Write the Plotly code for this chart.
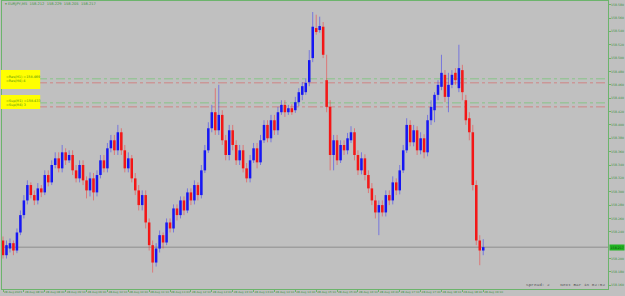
import plotly.graph_objects as go

# ---- data (EURJPY, M5) ----
opens = [158.227,158.205,158.215,158.223,158.212,158.239,158.265,158.287,158.310,158.295,
         158.287,158.305,158.299,158.325,158.314,158.340,158.350,158.335,158.359,158.347,
         158.355,158.332,158.320,158.340,158.317,158.302,158.320,158.299,158.325,158.347,
         158.335,158.365,158.377,158.362,158.389,158.362,158.335,158.350,158.320,158.302,
         158.280,158.295,158.254,158.220,158.194,158.215,158.235,158.224,158.254,158.245,
         158.275,158.265,158.287,158.272,158.299,158.287,158.310,158.295,158.332,158.362,
         158.395,158.419,158.392,158.415,158.377,158.355,158.392,158.370,158.347,158.362,
         158.335,158.320,158.347,158.365,158.344,158.377,158.400,158.380,158.407,158.392,
         158.419,158.430,158.419,158.425,158.422,158.434,158.445,158.449,158.464,158.500,
         158.545,158.542,158.547,158.467,158.427,158.355,158.377,158.347,158.370,158.362,
         158.377,158.389,158.355,158.332,158.350,158.325,158.305,158.287,158.269,158.280,
         158.269,158.295,158.287,158.314,158.302,158.332,158.362,158.400,158.374,158.392,
         158.362,158.380,158.359,158.407,158.422,158.445,158.457,158.475,158.442,158.460,
         158.478,158.455,158.482,158.437,158.410,158.389,158.310,158.227,158.212]
highs = [158.233,158.227,158.230,158.227,158.245,158.272,158.295,158.317,158.314,158.302,
         158.313,158.310,158.332,158.332,158.347,158.359,158.359,158.370,158.365,158.362,
         158.362,158.340,158.347,158.347,158.323,158.329,158.328,158.332,158.355,158.355,
         158.373,158.385,158.385,158.400,158.395,158.370,158.359,158.355,158.328,158.310,
         158.302,158.302,158.260,158.227,158.223,158.242,158.239,158.260,158.260,158.281,
         158.281,158.293,158.293,158.305,158.305,158.317,158.314,158.340,158.370,158.404,
         158.430,158.455,158.460,158.422,158.385,158.400,158.400,158.377,158.370,158.370,
         158.343,158.355,158.373,158.373,158.385,158.407,158.407,158.415,158.415,158.427,
         158.437,158.437,158.430,158.431,158.442,158.455,158.464,158.470,158.512,158.569,
         158.565,158.562,158.554,158.505,158.437,158.385,158.385,158.377,158.377,158.388,
         158.398,158.395,158.362,158.359,158.356,158.332,158.313,158.295,158.287,158.287,
         158.302,158.302,158.323,158.320,158.340,158.370,158.410,158.407,158.400,158.398,
         158.389,158.386,158.415,158.437,158.449,158.467,158.505,158.482,158.478,158.482,
         158.485,158.520,158.490,158.445,158.419,158.400,158.317,158.235,158.229]
lows = [158.200,158.200,158.209,158.205,158.208,158.235,158.260,158.281,158.290,158.280,
        158.281,158.292,158.295,158.308,158.310,158.335,158.329,158.329,158.340,158.343,
        158.325,158.314,158.314,158.310,158.290,158.293,158.287,158.293,158.320,158.329,
        158.329,158.359,158.355,158.355,158.355,158.329,158.329,158.314,158.295,158.272,
        158.272,158.245,158.212,158.179,158.188,158.209,158.215,158.220,158.239,158.239,
        158.257,158.260,158.265,158.268,158.280,158.281,158.287,158.290,158.328,158.358,
        158.389,158.385,158.385,158.370,158.347,158.347,158.362,158.340,158.340,158.329,
        158.314,158.314,158.343,158.335,158.340,158.373,158.374,158.374,158.385,158.385,
        158.415,158.412,158.415,158.415,158.418,158.428,158.437,158.445,158.458,158.494,
        158.535,158.538,158.500,158.419,158.332,158.332,158.340,158.343,158.355,158.356,
        158.373,158.347,158.325,158.326,158.317,158.298,158.280,158.260,158.235,158.263,
        158.263,158.280,158.281,158.295,158.296,158.328,158.358,158.368,158.368,158.355,
        158.356,158.350,158.353,158.400,158.404,158.437,158.452,158.434,158.419,158.455,
        158.460,158.449,158.437,158.400,158.377,158.302,158.220,158.190,158.205]
closes = [158.205,158.220,158.223,158.212,158.239,158.265,158.287,158.310,158.295,158.287,
          158.305,158.299,158.325,158.314,158.340,158.350,158.335,158.359,158.347,158.355,
          158.332,158.320,158.340,158.317,158.302,158.320,158.299,158.325,158.347,158.335,
          158.365,158.377,158.362,158.389,158.362,158.335,158.350,158.320,158.302,158.280,
          158.295,158.254,158.220,158.194,158.215,158.235,158.224,158.254,158.245,158.275,
          158.265,158.287,158.272,158.299,158.287,158.310,158.295,158.332,158.362,158.395,
          158.419,158.392,158.415,158.377,158.355,158.392,158.370,158.347,158.362,158.335,
          158.320,158.347,158.365,158.344,158.377,158.400,158.380,158.407,158.392,158.419,
          158.430,158.419,158.425,158.419,158.434,158.449,158.458,158.463,158.497,158.547,
          158.539,158.548,158.505,158.427,158.355,158.377,158.347,158.370,158.362,158.380,
          158.389,158.355,158.332,158.350,158.325,158.305,158.287,158.269,158.280,158.269,
          158.295,158.287,158.314,158.302,158.332,158.362,158.400,158.374,158.392,158.362,
          158.380,158.359,158.407,158.427,158.445,158.460,158.478,158.442,158.460,158.475,
          158.467,158.485,158.449,158.407,158.389,158.310,158.227,158.212,158.217]

tick_bars = [0, 6, 12, 18, 24, 30, 36, 42, 48, 54, 60, 66, 72, 78, 84, 90,
             96, 102, 108, 114, 120, 126, 132, 138]
tick_labels = ["28 Aug 2023", "28 Aug 08:10", "28 Aug 08:40", "28 Aug 09:10", "28 Aug 09:40",
               "28 Aug 10:10", "28 Aug 10:40", "28 Aug 11:10", "28 Aug 11:40", "28 Aug 12:10",
               "28 Aug 12:40", "28 Aug 13:10", "28 Aug 13:40", "28 Aug 14:10", "28 Aug 14:40",
               "28 Aug 15:10", "28 Aug 15:40", "28 Aug 16:10", "28 Aug 16:40", "28 Aug 17:10",
               "28 Aug 17:40", "28 Aug 18:10", "28 Aug 18:40", "28 Aug 19:10"]
# 158.220 is hidden behind the current-price label in the reference
price_ticks = [158.160, 158.180, 158.200, 158.240, 158.260, 158.280, 158.300,
               158.320, 158.340, 158.360, 158.380, 158.400, 158.420, 158.440, 158.460,
               158.480, 158.500, 158.520, 158.540, 158.560, 158.580]
level_upper = [158.469, 158.463]   # green, red dash-dot levels
level_lower = [158.433, 158.427]
level_texts_upper = ["=Res(H1) =158.469", "=Res(H4) 4"]
level_texts_lower = ["=Sup(H1) =158.433", "=Sup(H4) 3"]
symbol = "EURJPY,M5"
spread_text = "Spread: 2    Next Bar in 02:52"

# ---- styling ----
BG = "#c0c0c0"
GREEN_LINE = "#6cb46c"
GREEN_TEXT = "#3f923f"
UP = "#1414f0"
DN = "#f01414"
UP_WICK = "rgba(30,30,255,0.45)"
DN_WICK = "rgba(255,30,30,0.45)"

idx = list(range(len(closes)))
up_i = [i for i in idx if closes[i] >= opens[i]]
dn_i = [i for i in idx if closes[i] < opens[i]]

def wick_xy(ids):
    xs, ys = [], []
    for i in ids:
        xs += [i, i, None]
        ys += [lows[i], highs[i], None]
    return xs, ys

fig = go.Figure()
for ids, col in ((up_i, UP_WICK), (dn_i, DN_WICK)):
    wx, wy = wick_xy(ids)
    fig.add_trace(go.Scatter(x=wx, y=wy, mode="lines", line=dict(color=col, width=1),
                             hoverinfo="skip"))
for ids, col in ((up_i, UP), (dn_i, DN)):
    fig.add_trace(go.Bar(
        x=ids,
        base=[min(opens[i], closes[i]) for i in ids],
        y=[max(abs(closes[i] - opens[i]), 0.0012) for i in ids],
        width=0.72, marker=dict(color=col, line=dict(width=0)),
    ))

last = closes[-1]
shapes = []
for lv, c in zip(level_upper + level_lower, ["#86c486", "#d08484", "#86c486", "#d08484"]):
    shapes.append(dict(type="line", xref="paper", yref="y", x0=0, x1=1, y0=lv, y1=lv,
                       line=dict(color=c, width=1, dash="dashdot"), layer="below"))
shapes.append(dict(type="line", xref="paper", yref="y", x0=0, x1=1, y0=last, y1=last,
                   line=dict(color="#8e8e8e", width=1), layer="below"))
shapes.append(dict(type="rect", xref="paper", yref="paper", x0=-0.002, x1=0.063,
                   y0=(289 - 89) / 288, y1=(289 - 70) / 288,
                   fillcolor="#ffff00", line=dict(width=0)))
shapes.append(dict(type="rect", xref="paper", yref="paper", x0=-0.002, x1=0.063,
                   y0=(289 - 109) / 288, y1=(289 - 95) / 288,
                   fillcolor="#ffff00", line=dict(width=0)))

ann = []
ann.append(dict(xref="paper", yref="paper", x=0.002, y=(289 - 4) / 288, xanchor="left",
                yanchor="middle", showarrow=False,
                text="▾ " + symbol + "  " + "  ".join(f"{v:.3f}" for v in
                     (opens[-1], highs[-1], lows[-1], closes[-1])),
                font=dict(size=3.6, color=GREEN_TEXT, family="DejaVu Sans")))
for ys, txts in (((77, 81), level_texts_upper), ((101, 105), level_texts_lower)):
    for yp, t in zip(ys, txts):
        ann.append(dict(xref="paper", yref="paper", x=0.004, y=(289 - yp) / 288,
                        xanchor="left", yanchor="middle", showarrow=False, text=t,
                        font=dict(size=3.4, color="#4f8f10", family="DejaVu Sans")))
ann.append(dict(xref="paper", yref="y", x=1, y=last, xanchor="left", yanchor="middle",
                xshift=1, showarrow=False, text=f"{last:.3f}", bgcolor="#22b422",
                borderpad=0.6, font=dict(size=3.2, color="#0d4f0d", family="DejaVu Sans")))
ann.append(dict(xref="paper", yref="paper", x=0.998, y=(289 - 284) / 288, xanchor="right",
                yanchor="middle", showarrow=False, text=spread_text,
                font=dict(size=4.4, color="#555555", family="Liberation Mono")))

fig.update_layout(
    width=625, height=296,
    margin=dict(l=2, r=17, t=1, b=7, pad=0),
    paper_bgcolor=BG, plot_bgcolor=BG,
    showlegend=False, barmode="overlay",
    shapes=shapes, annotations=ann,
    xaxis=dict(range=[-0.29, 173.85], tickvals=tick_bars, ticktext=tick_labels,
               ticks="outside", ticklen=2, tickcolor=GREEN_LINE, tickangle=0,
               automargin=False,
               ticklabelposition="outside right",
               tickfont=dict(size=2.8, color=GREEN_TEXT, family="DejaVu Sans"),
               showgrid=False, zeroline=False, showline=True, mirror=True,
               linecolor=GREEN_LINE, linewidth=1, fixedrange=True),
    yaxis=dict(range=[158.1544, 158.5855], side="right", tickvals=price_ticks,
               tickformat=".3f", ticks="outside", ticklen=1.5, tickcolor=GREEN_LINE,
               automargin=False,
               tickfont=dict(size=3.1, color=GREEN_TEXT, family="DejaVu Sans"),
               showgrid=False, zeroline=False, showline=True, mirror=True,
               linecolor=GREEN_LINE, linewidth=1, fixedrange=True),
)

fig.write_html("out.html")
